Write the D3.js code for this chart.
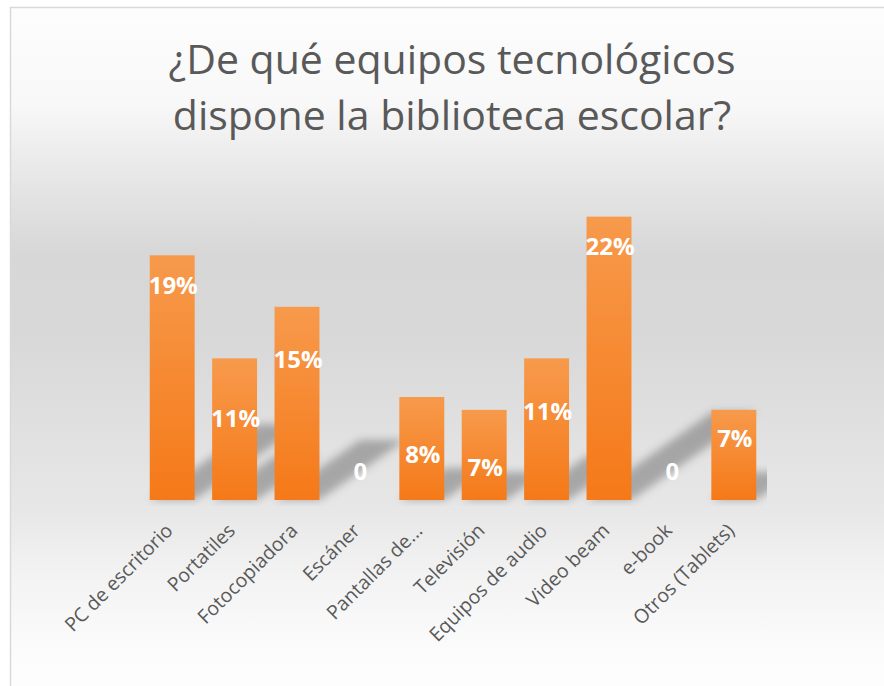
<!DOCTYPE html>
<html>
<head>
<meta charset="utf-8">
<script src="https://cdn.jsdelivr.net/npm/d3@7/dist/d3.min.js"></script>
<style>
  html, body { margin: 0; padding: 0; background: #ffffff; }
  svg { display: block; }
</style>
</head>
<body>
<svg id="chart" width="884" height="686"></svg>
<script>
// Equipment available in the school library (share of answers)
const categories = ["PC de escritorio", "Portatiles", "Fotocopiadora", "Escáner", "Pantallas de...",
                    "Televisión", "Equipos de audio", "Video beam", "e-book", "Otros (Tablets)"];
const percentages = [19, 11, 15, 0, 8, 7, 11, 22, 0, 7];
const titleLines = ["¿De qué equipos tecnológicos", "dispone la biblioteca escolar?"];

const W = 884, H = 686;
const plot = { left: 141, right: 767, top: 170, bottom: 500 };

const svg = d3.select("#chart");
const defs = svg.append("defs");

// Soft grey band behind the chart
const bg = defs.append("linearGradient").attr("id", "bgGrad")
  .attr("x1", 0).attr("y1", 0).attr("x2", 0).attr("y2", 1);
[[0, "#fdfdfd"], [0.14, "#f8f8f8"], [0.24, "#e8e8e8"], [0.36, "#d7d7d7"], [0.48, "#d8d8d8"],
 [0.61, "#e0e0e0"], [0.73, "#e7e7e7"], [0.82, "#f2f2f2"], [0.93, "#fbfbfb"], [1, "#fefefe"]]
  .forEach(([o, c]) => bg.append("stop").attr("offset", o).attr("stop-color", c));

// Orange bar fill, lighter at the top
const barGrad = defs.append("linearGradient").attr("id", "barGrad")
  .attr("x1", 0).attr("y1", 0).attr("x2", 0).attr("y2", 1);
barGrad.append("stop").attr("offset", 0).attr("stop-color", "#f79a4c");
barGrad.append("stop").attr("offset", 1).attr("stop-color", "#f57918");

const blur = defs.append("filter").attr("id", "shadowBlur")
  .attr("x", "-50%").attr("y", "-50%").attr("width", "200%").attr("height", "200%");
blur.append("feGaussianBlur").attr("stdDeviation", 4.5);

defs.append("clipPath").attr("id", "plotClip").append("rect")
  .attr("x", plot.left).attr("y", plot.top)
  .attr("width", plot.right - plot.left).attr("height", plot.bottom - plot.top + 6);

// Chart frame
svg.append("rect").attr("x", 10.5).attr("y", 7.5).attr("width", W).attr("height", H)
  .attr("fill", "url(#bgGrad)").attr("stroke", "#d9d9d9").attr("stroke-width", 1.5);

// Title
const title = svg.append("g").attr("font-family", "'Open Sans', sans-serif")
  .attr("fill", "#595959").attr("text-anchor", "middle");
titleLines.forEach((t, i) => {
  title.append("text").attr("x", 452).attr("y", 74 + i * 56)
    .attr("font-size", 41).text(t);
});

// Scales
const x = d3.scaleBand().domain(categories).range([141, 765])
  .paddingInner(0.28).paddingOuter(0.14);
const y = d3.scaleLinear().domain([0, 25]).range([plot.bottom, 178]);

const data = categories.map((c, i) => ({ cat: c, value: percentages[i] }));

// Perspective shadows cast up and to the right of each bar
const shadowRise = 0.31, shadowSlope = 0.7;
svg.append("g").attr("clip-path", "url(#plotClip)")
  .selectAll("polygon").data(data.filter(d => d.value > 0)).join("polygon")
  .attr("points", d => {
    const x0 = x(d.cat), x1 = x0 + x.bandwidth();
    const h = y(0) - y(d.value);
    const dy = h * shadowRise, dx = dy / shadowSlope;
    const b = y(0);
    return [[x0, b], [x1, b], [x1 + dx, b - dy], [x0 + dx, b - dy]].map(p => p.join(",")).join(" ");
  })
  .attr("fill", "#000").attr("fill-opacity", 0.27)
  .attr("filter", "url(#shadowBlur)");

// Bars
svg.append("g").selectAll("rect").data(data).join("rect")
  .attr("x", d => x(d.cat)).attr("width", x.bandwidth())
  .attr("y", d => y(d.value)).attr("height", d => y(0) - y(d.value))
  .attr("fill", "url(#barGrad)");

// Value labels: distance below each bar's top edge (negative = above)
const labelDrop = [30, 60, 53, -28, 58, 58, 53, 30, -28, 29];
svg.append("g").attr("font-family", "'Open Sans', sans-serif").attr("font-weight", 700)
  .attr("font-size", 24).attr("fill", "#ffffff").attr("text-anchor", "middle")
  .selectAll("text").data(data).join("text")
  .attr("x", d => x(d.cat) + x.bandwidth() / 2 + 1)
  .attr("y", (d, i) => y(d.value) + labelDrop[i])
  .attr("dy", "0.35em")
  .text(d => d.value === 0 ? "0" : d.value + "%");

// Category axis (rotated labels, no line or ticks)
const axis = svg.append("g").attr("transform", `translate(0,${plot.bottom})`)
  .call(d3.axisBottom(x).tickSize(0).tickPadding(0));
axis.select(".domain").remove();
axis.selectAll(".tick text")
  .attr("font-family", "'Open Sans', sans-serif").attr("font-size", 19.5)
  .attr("fill", "#595959").attr("text-anchor", "end")
  .attr("transform", "translate(-3,27) rotate(-45)")
  .attr("dy", "0.35em").attr("y", 0).attr("x", 0);
</script>
</body>
</html>
